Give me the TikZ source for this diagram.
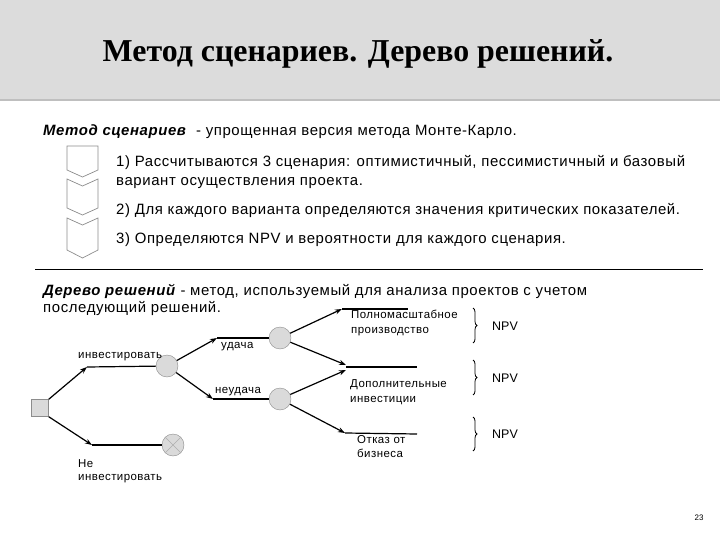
\documentclass[tikz,border=0pt]{standalone}
\usepackage{fontspec}
\setmainfont{Liberation Sans}
\newfontfamily\bodyfont{Liberation Sans}[LetterSpace=4]
\newfontfamily\labelfont{Liberation Sans}[LetterSpace=4]
\newfontfamily\titlefont{Liberation Serif}
\usetikzlibrary{arrows.meta, positioning, decorations.pathreplacing}
\definecolor{bannergray}{RGB}{220,220,220}
\definecolor{nodegray}{RGB}{218,218,218}
\definecolor{edgegray}{RGB}{140,140,140}

\begin{document}
\begin{tikzpicture}[
    x=1bp, y=-1bp,
    txt/.style={anchor=base west, inner sep=0pt, font=\bodyfont\fontsize{15}{17}\selectfont},
    small/.style={anchor=base west, inner sep=0pt, font=\labelfont\fontsize{11.5}{13}\selectfont},
    chance/.style={circle, draw=edgegray, fill=nodegray, minimum size=22bp, inner sep=0pt},
    decision/.style={rectangle, draw=edgegray, fill=nodegray, minimum size=17bp, inner sep=0pt},
    arrow/.style={-{Stealth[length=7bp, width=5bp]}, line width=1.2bp},
    branch/.style={line width=1.2bp},
    chev/.style={draw=edgegray, fill=white, line width=0.7bp},
    brace/.style={decorate, decoration={brace, amplitude=4bp}, line width=0.8bp}
]
\useasboundingbox (0,0) rectangle (720,540);

% Title banner
\fill[bannergray] (0,0) rectangle (720,100);
\draw[gray!50, line width=1.5bp] (0,100) -- (720,100);
\node[anchor=base, inner sep=0pt, font=\titlefont\bfseries\fontsize{32}{36}\selectfont] (title) at (358,62) {Метод сценариев. Дерево решений.};

% Scenario method
\node[txt] (head) at (43,136) {\textbf{\textit{Метод сценариев}}\ \ - упрощенная версия метода Монте-Карло.};
\filldraw[chev] (67,146) -- (98,146) -- (98,170) -- (82.5,177) -- (67,170) -- cycle;
\filldraw[chev] (67,179) -- (82.5,186) -- (98,179) -- (98,208) -- (82.5,215) -- (67,208) -- cycle;
\filldraw[chev] (67,218) -- (82.5,225) -- (98,218) -- (98,250) -- (82.5,258) -- (67,250) -- cycle;
\node[txt] (step1) at (116,167) {1) Рассчитываются 3 сценария: оптимистичный, пессимистичный и базовый};
\node[txt] (step1b) at (116,186) {вариант осуществления проекта.};
\node[txt] (step2) at (116,215) {2) Для каждого варианта определяются значения критических показателей.};
\node[txt] (step3) at (116,244) {3) Определяются NPV и вероятности для каждого сценария.};
\draw[line width=1bp] (35,269) -- (703,269);

% Decision tree
\node[txt] (tree1) at (43,295) {\textbf{\textit{Дерево решений}} - метод, используемый для анализа проектов с учетом};
\node[txt] (tree2) at (43,312) {последующий решений.};

\node[decision] (root) at (40,408) {};
\coordinate (inv) at (87,367);
\node[chance] (c1) at (167,366) {};
\coordinate (noinv) at (92,445);
\node[chance] (cx) at (173,445) {};
\draw[edgegray!70] (cx.north west) -- (cx.south east) (cx.north east) -- (cx.south west);
\coordinate (succ) at (217,338);
\node[chance] (c2) at (280,338) {};
\coordinate (fail) at (213,399);
\node[chance] (c3) at (280,399) {};
\coordinate (full) at (342,309);
\coordinate (fullend) at (408,309);
\coordinate (addup) at (346,365);
\coordinate (adddn) at (346,370);
\coordinate (add) at (346,367);
\coordinate (addend) at (417,367);
\coordinate (quit) at (345,433);
\coordinate (quitend) at (417,434);

\draw[arrow] (root.north east) -- (inv);
\draw[branch] (inv) -- (c1);
\draw[arrow] (root.south east) -- (noinv);
\draw[branch] (noinv) -- (cx);
\draw[arrow] (c1) -- (succ);
\draw[branch] (succ) -- (c2);
\draw[arrow] (c1) -- (fail);
\draw[branch] (fail) -- (c3);
\draw[arrow] (c2) -- (full);
\draw[branch] (full) -- (fullend);
\draw[arrow] (c2) -- (addup);
\draw[arrow] (c3) -- (adddn);
\draw[branch] (add) -- (addend);
\draw[arrow] (c3) -- (quit);
\draw[branch] (quit) -- (quitend);

% Branch labels
\node[small] (lbinv) at (78,358) {инвестировать};
\node[small] (lbno1) at (78,467) {Не};
\node[small] (lbno2) at (78,480) {инвестировать};
\node[small] (lbsucc) at (221,348) {удача};
\node[small] (lbfail) at (215,393) {неудача};
\node[small] (lbfull1) at (351,318) {Полномасштабное};
\node[small] (lbfull2) at (351,333) {производство};
\node[small] (lbadd1) at (350,387) {Дополнительные};
\node[small] (lbadd2) at (350,402) {инвестиции};
\node[small] (lbquit1) at (357,443) {Отказ от};
\node[small] (lbquit2) at (357,457) {бизнеса};

% Outcomes
\draw[brace] (473,308) -- (473,343);
\draw[brace] (473,360) -- (473,395);
\draw[brace] (473,417) -- (473,451);
\node[small, font=\fontsize{12.5}{14}\selectfont] (npv1) at (492,330) {NPV};
\node[small, font=\fontsize{12.5}{14}\selectfont] (npv2) at (492,382) {NPV};
\node[small, font=\fontsize{12.5}{14}\selectfont] (npv3) at (492,438) {NPV};

\node[font=\fontsize{8}{9}\selectfont, inner sep=0pt] (page) at (699,518) {23};
\end{tikzpicture}
\end{document}
